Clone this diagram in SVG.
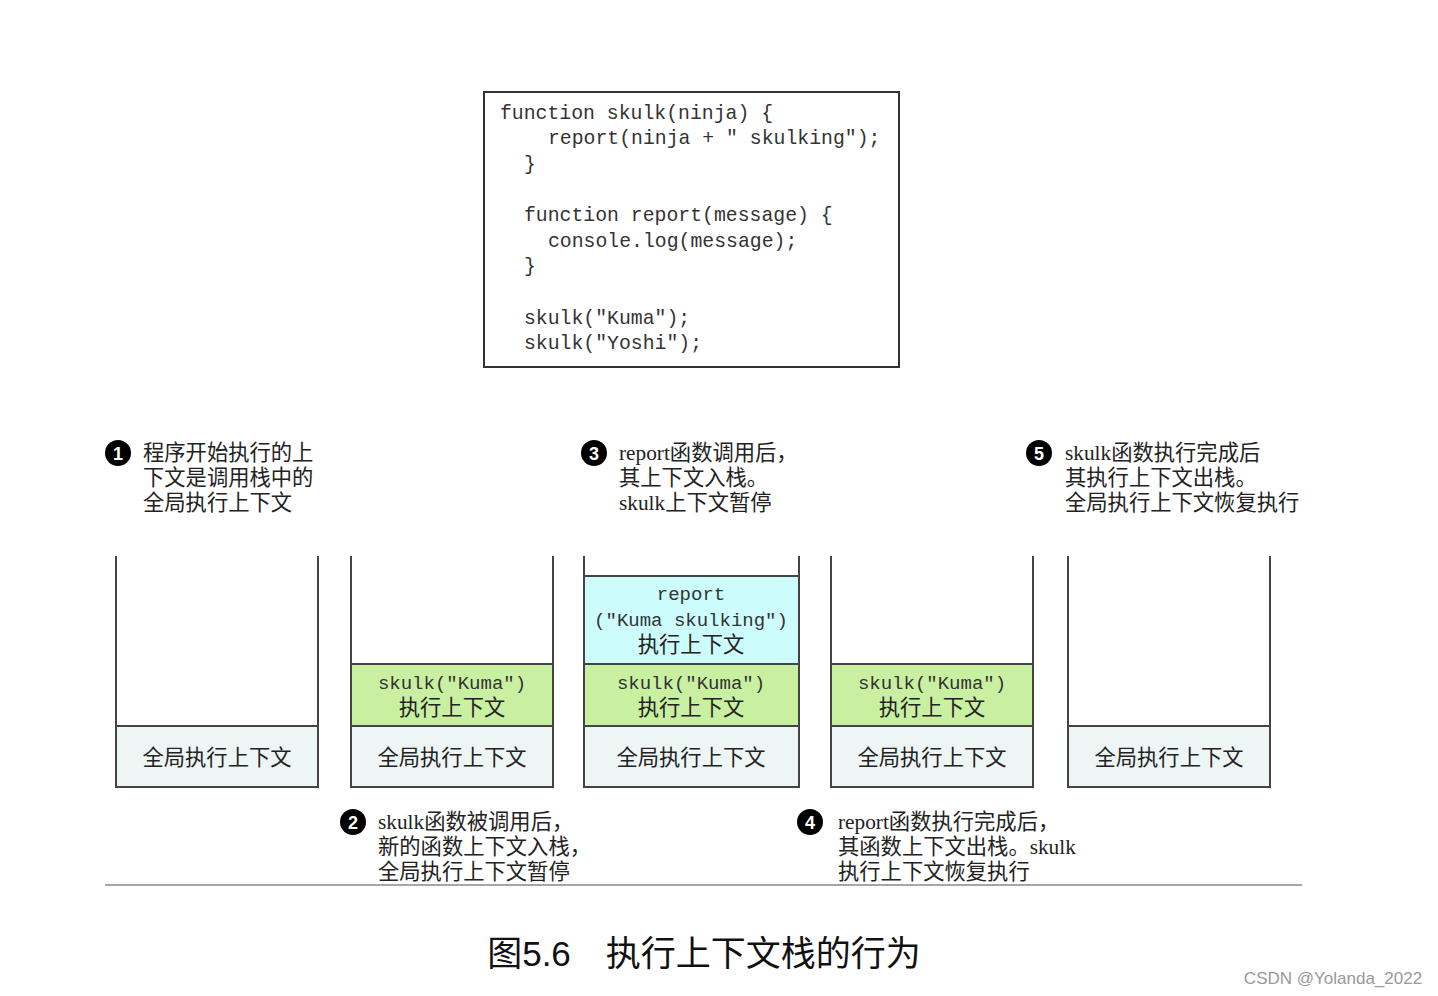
<svg xmlns="http://www.w3.org/2000/svg" width="1438" height="996" viewBox="0 0 1438 996">
<style>
.code{font-family:"Liberation Mono",monospace;font-size:19.8px;fill:#333}
.mono{font-family:"Liberation Mono",monospace;font-size:19px;fill:#333;text-anchor:middle}
.cjk{font-family:"Liberation Serif","Noto Sans CJK SC",serif;font-size:21.3px;fill:#222}
.cjkm{font-family:"Liberation Serif","Noto Sans CJK SC",serif;font-size:21.3px;fill:#222;text-anchor:middle}
.wall{fill:none;stroke:#444;stroke-width:2}
.glob{fill:#eef5f5;stroke:#444;stroke-width:2}
.green{fill:#c8f0a0;stroke:#444;stroke-width:2}
.cyan{fill:#ccfcfc;stroke:#444;stroke-width:2}
.num{fill:#000}
.numt{font-family:"Liberation Sans",sans-serif;font-size:18px;font-weight:bold;fill:#fff;text-anchor:middle}
</style>
<rect width="1438" height="996" fill="#fff"/>
<g id="code">
<rect x="484" y="92" width="415" height="275" fill="#fff" stroke="#333" stroke-width="2"/>
<text class="code" x="500" y="119">function skulk(ninja) {</text>
<text class="code" x="548" y="144">report(ninja + " skulking");</text>
<text class="code" x="524" y="170">}</text>
<text class="code" x="524" y="221">function report(message) {</text>
<text class="code" x="548" y="247">console.log(message);</text>
<text class="code" x="524" y="272">}</text>
<text class="code" x="524" y="324">skulk("Kuma");</text>
<text class="code" x="524" y="349">skulk("Yoshi");</text>
</g>
<g id="stack1">
<rect class="glob" x="116" y="726" width="202" height="61"/>
<text class="cjkm" x="217" y="765">全局执行上下文</text>
<path class="wall" d="M116 556V787H318V556"/>
</g>
<g id="stack2">
<rect class="green" x="351" y="664" width="202" height="62"/>
<text class="mono" x="452" y="689">skulk("Kuma")</text>
<text class="cjkm" x="452" y="715">执行上下文</text>
<rect class="glob" x="351" y="726" width="202" height="61"/>
<text class="cjkm" x="452" y="765">全局执行上下文</text>
<path class="wall" d="M351 556V787H553V556"/>
</g>
<g id="stack3">
<rect class="cyan" x="584" y="576" width="215" height="88"/>
<text class="mono" x="691" y="600">report</text>
<text class="mono" x="691" y="626">("Kuma skulking")</text>
<text class="cjkm" x="691" y="652">执行上下文</text>
<rect class="green" x="584" y="664" width="215" height="62"/>
<text class="mono" x="691" y="689">skulk("Kuma")</text>
<text class="cjkm" x="691" y="715">执行上下文</text>
<rect class="glob" x="584" y="726" width="215" height="61"/>
<text class="cjkm" x="691" y="765">全局执行上下文</text>
<path class="wall" d="M584 556V787H799V556"/>
</g>
<g id="stack4">
<rect class="green" x="831" y="664" width="202" height="62"/>
<text class="mono" x="932" y="689">skulk("Kuma")</text>
<text class="cjkm" x="932" y="715">执行上下文</text>
<rect class="glob" x="831" y="726" width="202" height="61"/>
<text class="cjkm" x="932" y="765">全局执行上下文</text>
<path class="wall" d="M831 556V787H1033V556"/>
</g>
<g id="stack5">
<rect class="glob" x="1068" y="726" width="202" height="61"/>
<text class="cjkm" x="1169" y="765">全局执行上下文</text>
<path class="wall" d="M1068 556V787H1270V556"/>
</g>
<g id="label1">
<circle class="num" cx="118" cy="453" r="13"/>
<text class="numt" x="118" y="460">1</text>
<text class="cjk" x="143" y="460">程序开始执行的上</text>
<text class="cjk" x="143" y="485">下文是调用栈中的</text>
<text class="cjk" x="143" y="510">全局执行上下文</text>
</g>
<g id="label2">
<circle class="num" cx="353" cy="822" r="13"/>
<text class="numt" x="353" y="829">2</text>
<text class="cjk" x="378" y="829">skulk函数被调用后，</text>
<text class="cjk" x="378" y="854">新的函数上下文入栈，</text>
<text class="cjk" x="378" y="879">全局执行上下文暂停</text>
</g>
<g id="label3">
<circle class="num" cx="594" cy="453" r="13"/>
<text class="numt" x="594" y="460">3</text>
<text class="cjk" x="619" y="460">report函数调用后，</text>
<text class="cjk" x="619" y="485">其上下文入栈。</text>
<text class="cjk" x="619" y="510">skulk上下文暂停</text>
</g>
<g id="label4">
<circle class="num" cx="810" cy="822" r="13"/>
<text class="numt" x="810" y="829">4</text>
<text class="cjk" x="838" y="829">report函数执行完成后，</text>
<text class="cjk" x="838" y="854">其函数上下文出栈。skulk</text>
<text class="cjk" x="838" y="879">执行上下文恢复执行</text>
</g>
<g id="label5">
<circle class="num" cx="1039" cy="453" r="13"/>
<text class="numt" x="1039" y="460">5</text>
<text class="cjk" x="1065" y="460">skulk函数执行完成后</text>
<text class="cjk" x="1065" y="485">其执行上下文出栈。</text>
<text class="cjk" x="1065" y="510">全局执行上下文恢复执行</text>
</g>
<line x1="105" y1="885" x2="1302" y2="885" stroke="#888" stroke-width="1.5"/>
<text x="704" y="966" text-anchor="middle" style="font-family:'Liberation Sans','Noto Sans CJK SC',sans-serif;font-size:35px;fill:#111">图5.6　执行上下文栈的行为</text>
<text x="1333" y="984" text-anchor="middle" style="font-family:'Liberation Sans',sans-serif;font-size:17px;fill:#999">CSDN @Yolanda_2022</text>
</svg>
